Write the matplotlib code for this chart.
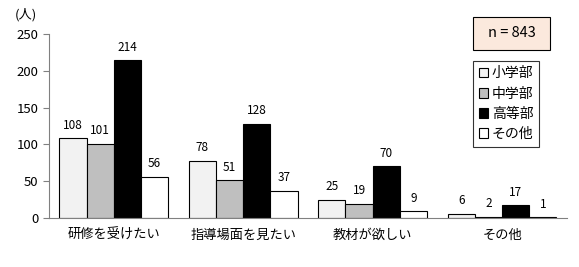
import numpy as np
import matplotlib.pyplot as plt
from matplotlib.patches import Rectangle

plt.rcParams['font.family'] = ['Noto Sans CJK JP', 'DejaVu Sans']

categories = ['研修を受けたい', '指導場面を見たい', '教材が欲しい', 'その他']
series = ['小学部', '中学部', '高等部', 'その他']
values = [
    [108, 78, 25, 6],
    [101, 51, 19, 2],
    [214, 128, 70, 17],
    [56, 37, 9, 1],
]
colors = ['#f2f2f2', '#bfbfbf', '#000000', '#ffffff']

fig = plt.figure(figsize=(5.79, 2.67), dpi=100)
ax = fig.add_axes([0.0846, 0.1835, 0.8944, 0.6895])

x = np.arange(len(categories))
w = 0.21
for i, s in enumerate(series):
    pos = x + (i - 1.5) * w
    bars = ax.bar(pos, values[i], w, color=colors[i], edgecolor='black',
                  linewidth=0.8, label=s)
    for b, v in zip(bars, values[i]):
        ax.text(b.get_x() + b.get_width() / 2, v + 9, str(v),
                ha='center', va='bottom', fontsize=8.5)

ax.set_xlim(-0.5, len(categories) - 0.5)
ax.set_ylim(0, 250)
ax.set_yticks(range(0, 251, 50))
ax.set_xticks(x)
ax.set_xticklabels(categories, fontsize=9.5)
ax.tick_params(axis='y', labelsize=9.5, length=4, color='#808080')
ax.tick_params(axis='x', length=0, pad=8)
for sp in ['top', 'right']:
    ax.spines[sp].set_visible(False)
for sp in ['left', 'bottom']:
    ax.spines[sp].set_color('#808080')

fig.text(0.026, 0.945, '(人)', fontsize=9.5, va='center')

# n box
fig.patches.append(Rectangle((0.817, 0.813), 0.133, 0.124, transform=fig.transFigure,
                             facecolor='#fbe9dd', edgecolor='black', linewidth=0.8))
fig.text(0.8835, 0.875, 'n = 843', fontsize=10.5, va='center', ha='center')

leg = fig.legend(loc='upper left', bbox_to_anchor=(0.817, 0.772),
                 fontsize=10, frameon=True, fancybox=False, edgecolor='black',
                 handlelength=0.7, handleheight=0.7, handletextpad=0.25,
                 labelspacing=0.45, borderpad=0.4, borderaxespad=0)
leg.get_frame().set_linewidth(0.8)

fig.savefig('out.png', dpi=100)
